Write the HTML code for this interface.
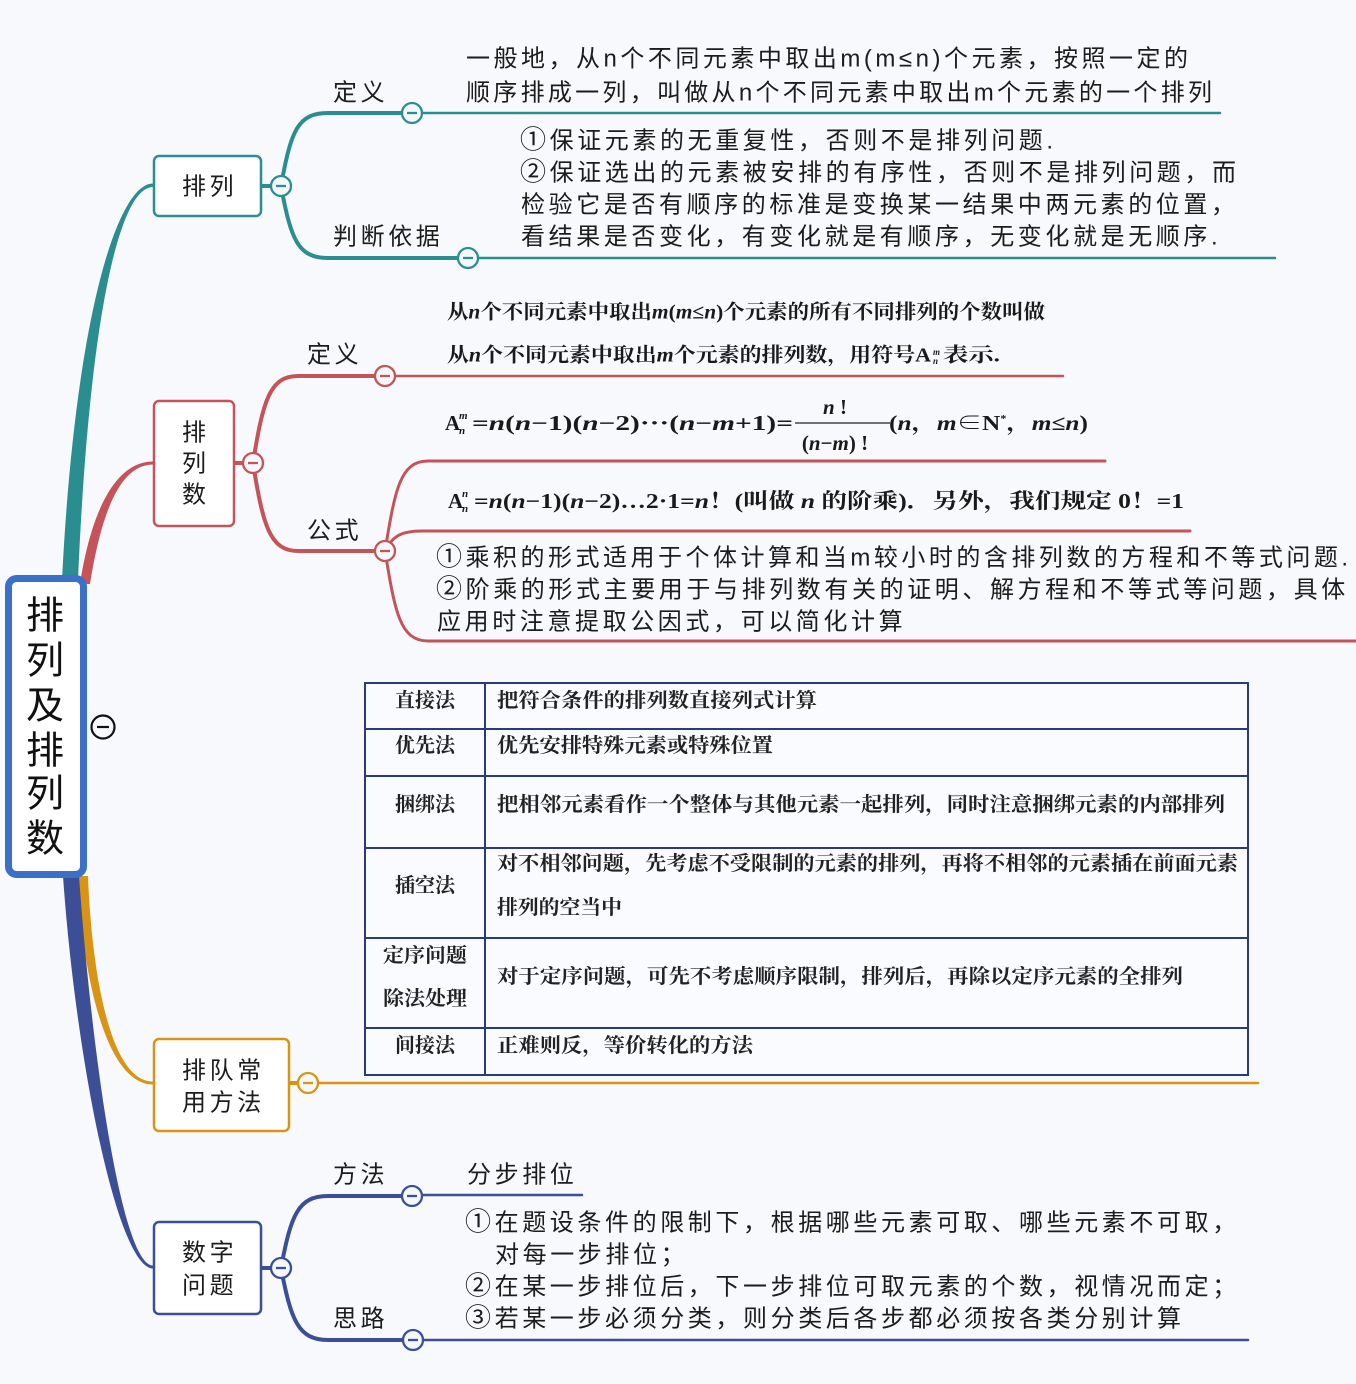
<!DOCTYPE html>
<html><head><meta charset="utf-8"><style>
html,body{margin:0;padding:0;background:#f7f9fc;}
svg{display:block;}
.s{font-family:"Liberation Sans","Noto Sans CJK SC",sans-serif;font-size:24px;fill:#1c1c1c;letter-spacing:3.6px;}
.c{font-family:"Noto Sans CJK SC",sans-serif;font-size:26px;}
.r{font-family:"Liberation Sans","Noto Sans CJK SC",sans-serif;font-size:38px;fill:#111;}
.b{font-family:"Liberation Serif","Noto Serif CJK SC",serif;font-size:20px;font-weight:bold;fill:#1a1a1a;}
.f{font-family:"Liberation Serif","Noto Serif CJK SC",serif;font-size:21px;font-weight:bold;fill:#1a1a1a;}
.i{font-style:italic;}
.tb{font-family:"Liberation Serif","Noto Serif CJK SC",serif;font-size:20px;font-weight:bold;fill:#222;}
</style></head><body>
<svg width="1356" height="1384" viewBox="0 0 1356 1384" xmlns="http://www.w3.org/2000/svg">
<rect x="0" y="0" width="1356" height="1384" fill="#f7f9fc"/>

<!-- main tapered branches -->
<path d="M62 580 C75 320,117 183.5,153 183.5 L153 187 C119 187,89 320,78 580 Z" fill="#2a8e91"/>
<path d="M80 584 C90 518,113 461.5,153 461.5 L153 464.5 C117 464.5,100 522,90 584 Z" fill="#c4545a"/>
<path d="M78 876 C81 962,103 1084.5,153 1084.5 L153 1081.5 C107 1081.5,91 958,88 876 Z" fill="#d99414"/>
<path d="M63 876 C76 1062,118 1268.5,153 1268.5 L153 1265.5 C122 1265.5,92 1058,79 876 Z" fill="#3c4e96"/>

<!-- teal sub-branches -->
<g fill="none" stroke="#2a8e91" stroke-linecap="round">
<path d="M262 186 L281 186" stroke-width="4"/>
<path d="M281 186 C291 130,298 113,328 113 L402 113" stroke-width="4"/>
<path d="M281 186 C291 240,298 258,328 258 L458 258" stroke-width="4"/>
<path d="M422 113 L1220 113" stroke-width="2.5"/>
<path d="M478 258 L1275 258" stroke-width="2.5"/>
</g>
<!-- red sub-branches -->
<g fill="none" stroke="#c4545a" stroke-linecap="round">
<path d="M235 463 L253 463" stroke-width="4"/>
<path d="M253 463 C263 400,270 376,298 376 L375 376" stroke-width="4"/>
<path d="M253 463 C263 526,270 551,298 551 L375 551" stroke-width="4"/>
<path d="M395 376 L1063 376" stroke-width="2.5"/>
<path d="M385 551 C395 490,400 461,428 461 L1105 461" stroke-width="3"/>
<path d="M385 551 C392 537,400 531,422 531 L1190 531" stroke-width="3"/>
<path d="M385 551 C395 612,400 641,428 641 L1356 641" stroke-width="3"/>
</g>
<!-- orange -->
<g fill="none" stroke="#d99414" stroke-linecap="round">
<path d="M290 1083 L300 1083" stroke-width="4"/>
<path d="M318 1083 L1258 1083" stroke-width="2.5"/>
</g>
<!-- navy -->
<g fill="none" stroke="#3c4e96" stroke-linecap="round">
<path d="M262 1268 L281 1268" stroke-width="4"/>
<path d="M281 1268 C291 1215,298 1196,328 1196 L402 1196" stroke-width="4"/>
<path d="M281 1268 C291 1320,298 1340,328 1340 L403 1340" stroke-width="4"/>
<path d="M422 1195 L582 1195" stroke-width="2.5"/>
<path d="M423 1340 L1248 1340" stroke-width="2.5"/>
</g>

<!-- root box -->
<rect x="8.5" y="578.5" width="75" height="296" rx="8" fill="#ffffff" stroke="#3b70c9" stroke-width="7"/>
<text class="r" x="45" y="628.5" text-anchor="middle">排</text>
<text class="r" x="45" y="673.5" text-anchor="middle">列</text>
<text class="r" x="45" y="718.5" text-anchor="middle">及</text>
<text class="r" x="45" y="763.5" text-anchor="middle">排</text>
<text class="r" x="45" y="806.5" text-anchor="middle">列</text>
<text class="r" x="45" y="851.5" text-anchor="middle">数</text>
<circle cx="103" cy="727" r="11.5" fill="#f7f9fc" stroke="#111" stroke-width="2.2"/>
<line x1="97" y1="727" x2="109" y2="727" stroke="#111" stroke-width="2.2"/>

<!-- child boxes -->
<rect x="154" y="156" width="107" height="60" rx="5" fill="#fff" stroke="#2a8e91" stroke-width="2.5"/>
<text class="s" x="182" y="194.5">排列</text>
<rect x="154" y="401" width="80" height="125" rx="5" fill="#fff" stroke="#c4545a" stroke-width="2.5"/>
<text class="s" x="194" y="440.5" text-anchor="middle" style="letter-spacing:0">排</text>
<text class="s" x="194" y="471.5" text-anchor="middle" style="letter-spacing:0">列</text>
<text class="s" x="194" y="502.5" text-anchor="middle" style="letter-spacing:0">数</text>
<rect x="154" y="1039" width="135" height="92" rx="5" fill="#fff" stroke="#d99414" stroke-width="2.5"/>
<text class="s" x="182" y="1078.5">排队常</text>
<text class="s" x="182" y="1110.5">用方法</text>
<rect x="154" y="1222" width="107" height="92" rx="5" fill="#fff" stroke="#3c4e96" stroke-width="2.5"/>
<text class="s" x="182" y="1260.5">数字</text>
<text class="s" x="182" y="1293.5">问题</text>

<!-- circles -->
<g stroke-width="2.3" fill="#f4f8fb">
<circle cx="281" cy="186" r="10" stroke="#2a8e91"/>
<circle cx="412" cy="113" r="10" stroke="#2a8e91"/>
<circle cx="468" cy="258" r="10" stroke="#2a8e91"/>
<circle cx="253" cy="463" r="10" stroke="#c4545a"/>
<circle cx="385" cy="376" r="10" stroke="#c4545a"/>
<circle cx="385" cy="551" r="10" stroke="#c4545a"/>
<circle cx="308" cy="1083" r="10" stroke="#d99414"/>
<circle cx="281" cy="1268" r="10" stroke="#3c4e96"/>
<circle cx="412" cy="1196" r="10" stroke="#3c4e96"/>
<circle cx="413" cy="1340" r="10" stroke="#3c4e96"/>
</g>
<g stroke-width="2.3">
<line x1="276" y1="186" x2="286" y2="186" stroke="#2a8e91"/>
<line x1="407" y1="113" x2="417" y2="113" stroke="#2a8e91"/>
<line x1="463" y1="258" x2="473" y2="258" stroke="#2a8e91"/>
<line x1="248" y1="463" x2="258" y2="463" stroke="#c4545a"/>
<line x1="380" y1="376" x2="390" y2="376" stroke="#c4545a"/>
<line x1="380" y1="551" x2="390" y2="551" stroke="#c4545a"/>
<line x1="303" y1="1083" x2="313" y2="1083" stroke="#d99414"/>
<line x1="276" y1="1268" x2="286" y2="1268" stroke="#3c4e96"/>
<line x1="407" y1="1196" x2="417" y2="1196" stroke="#3c4e96"/>
<line x1="408" y1="1340" x2="418" y2="1340" stroke="#3c4e96"/>
</g>

<!-- teal section text -->
<text class="s" x="333" y="100.5">定义</text>
<text class="s" x="333" y="244.5">判断依据</text>
<text class="s" x="466" y="66.5" textLength="722" lengthAdjust="spacing" style="letter-spacing:0">一般地，从n个不同元素中取出m(m≤n)个元素，按照一定的</text>
<text class="s" x="466" y="100.5" textLength="746" lengthAdjust="spacing" style="letter-spacing:0">顺序排成一列，叫做从n个不同元素中取出m个元素的一个排列</text>
<text class="s" x="520" y="148.5"><tspan class="c">①</tspan>保证元素的无重复性，否则不是排列问题.</text>
<text class="s" x="520" y="180.5"><tspan class="c">②</tspan>保证选出的元素被安排的有序性，否则不是排列问题，而</text>
<text class="s" x="521" y="212.5">检验它是否有顺序的标准是变换某一结果中两元素的位置，</text>
<text class="s" x="521" y="244.5">看结果是否变化，有变化就是有顺序，无变化就是无顺序.</text>

<!-- red section text -->
<text class="s" x="307" y="362.5">定义</text>
<text class="s" x="307" y="538.5">公式</text>
<text class="b" x="447" y="318.5" textLength="598" lengthAdjust="spacingAndGlyphs">从<tspan class="i">n</tspan>个不同元素中取出<tspan class="i">m</tspan>(<tspan class="i">m</tspan>≤<tspan class="i">n</tspan>)个元素的所有不同排列的个数叫做</text>
<text class="b" x="447" y="361.5" textLength="484" lengthAdjust="spacingAndGlyphs">从<tspan class="i">n</tspan>个不同元素中取出<tspan class="i">m</tspan>个元素的排列数，用符号A</text>
<text class="b i" x="933" y="355" style="font-size:9px">m</text>
<text class="b i" x="933" y="364" style="font-size:9px">n</text>
<text class="b" x="943" y="361.5" textLength="57" lengthAdjust="spacingAndGlyphs">表示.</text>

<!-- formula 1 -->
<text class="f" x="445" y="430">A</text>
<text class="f i" x="459" y="419" style="font-size:11px">m</text>
<text class="f i" x="459" y="434" style="font-size:11px">n</text>
<text class="f" x="472" y="430" textLength="321" lengthAdjust="spacingAndGlyphs">=<tspan class="i">n</tspan>(<tspan class="i">n</tspan>−1)(<tspan class="i">n</tspan>−2)···(<tspan class="i">n</tspan>−<tspan class="i">m</tspan>+1)=</text>
<text class="f" x="835" y="414" text-anchor="middle"><tspan class="i">n</tspan> !</text>
<line x1="795" y1="423" x2="890" y2="423" stroke="#222" stroke-width="1.3"/>
<text class="f" x="835" y="450" text-anchor="middle">(<tspan class="i">n</tspan>−<tspan class="i">m</tspan>) !</text>
<text class="f" x="889" y="430" textLength="199" lengthAdjust="spacingAndGlyphs">(<tspan class="i">n</tspan>，<tspan class="i">m</tspan>∈N<tspan dy="-8" style="font-size:10px">*</tspan><tspan dy="8">，</tspan><tspan class="i">m</tspan>≤<tspan class="i">n</tspan>)</text>

<!-- formula 2 -->
<text class="f" x="448" y="508">A</text>
<text class="f i" x="462" y="497" style="font-size:11px">n</text>
<text class="f i" x="462" y="512" style="font-size:11px">n</text>
<text class="f" x="474" y="508" textLength="710" lengthAdjust="spacingAndGlyphs">=<tspan class="i">n</tspan>(<tspan class="i">n</tspan>−1)(<tspan class="i">n</tspan>−2)…2·1=<tspan class="i">n</tspan>！(叫做 <tspan class="i">n</tspan> 的阶乘)．另外，我们规定 0！=1</text>

<text class="s" x="436" y="565.5" textLength="912" lengthAdjust="spacing" style="letter-spacing:0"><tspan class="c">①</tspan>乘积的形式适用于个体计算和当m较小时的含排列数的方程和不等式问题.</text>
<text class="s" x="436" y="597.5"><tspan class="c">②</tspan>阶乘的形式主要用于与排列数有关的证明、解方程和不等式等问题，具体</text>
<text class="s" x="437" y="629.5">应用时注意提取公因式，可以简化计算</text>

<!-- table -->
<rect x="365" y="683" width="883" height="392" fill="#f9fbfe" stroke="#2a3c78" stroke-width="2"/>
<g stroke="#2a3c78" stroke-width="2">
<line x1="485" y1="683" x2="485" y2="1075"/>
<line x1="365" y1="729" x2="1248" y2="729"/>
<line x1="365" y1="776" x2="1248" y2="776"/>
<line x1="365" y1="848" x2="1248" y2="848"/>
<line x1="365" y1="938" x2="1248" y2="938"/>
<line x1="365" y1="1028" x2="1248" y2="1028"/>
</g>
<text class="tb" x="425" y="707" text-anchor="middle">直接法</text>
<text class="tb" x="425" y="752" text-anchor="middle">优先法</text>
<text class="tb" x="425" y="811" text-anchor="middle">捆绑法</text>
<text class="tb" x="425" y="892" text-anchor="middle">插空法</text>
<text class="tb" x="425" y="962" text-anchor="middle" textLength="84" lengthAdjust="spacingAndGlyphs">定序问题</text>
<text class="tb" x="425" y="1005" text-anchor="middle" textLength="84" lengthAdjust="spacingAndGlyphs">除法处理</text>
<text class="tb" x="425" y="1052" text-anchor="middle">间接法</text>
<text class="tb" x="497" y="707" textLength="320" lengthAdjust="spacingAndGlyphs">把符合条件的排列数直接列式计算</text>
<text class="tb" x="497" y="752" textLength="276" lengthAdjust="spacingAndGlyphs">优先安排特殊元素或特殊位置</text>
<text class="tb" x="497" y="811" textLength="728" lengthAdjust="spacingAndGlyphs">把相邻元素看作一个整体与其他元素一起排列，同时注意捆绑元素的内部排列</text>
<text class="tb" x="497" y="870" textLength="741" lengthAdjust="spacingAndGlyphs">对不相邻问题，先考虑不受限制的元素的排列，再将不相邻的元素插在前面元素</text>
<text class="tb" x="497" y="914" textLength="125" lengthAdjust="spacingAndGlyphs">排列的空当中</text>
<text class="tb" x="497" y="983" textLength="686" lengthAdjust="spacingAndGlyphs">对于定序问题，可先不考虑顺序限制，排列后，再除以定序元素的全排列</text>
<text class="tb" x="497" y="1052" textLength="256" lengthAdjust="spacingAndGlyphs">正难则反，等价转化的方法</text>

<!-- navy section text -->
<text class="s" x="333" y="1182.5">方法</text>
<text class="s" x="333" y="1326.5">思路</text>
<text class="s" x="467" y="1182.5">分步排位</text>
<text class="s" x="465" y="1230.5"><tspan class="c">①</tspan>在题设条件的限制下，根据哪些元素可取、哪些元素不可取，</text>
<text class="s" x="495" y="1262.5">对每一步排位；</text>
<text class="s" x="465" y="1294.5"><tspan class="c">②</tspan>在某一步排位后，下一步排位可取元素的个数，视情况而定；</text>
<text class="s" x="465" y="1326.5"><tspan class="c">③</tspan>若某一步必须分类，则分类后各步都必须按各类分别计算</text>
</svg>
</body></html>
